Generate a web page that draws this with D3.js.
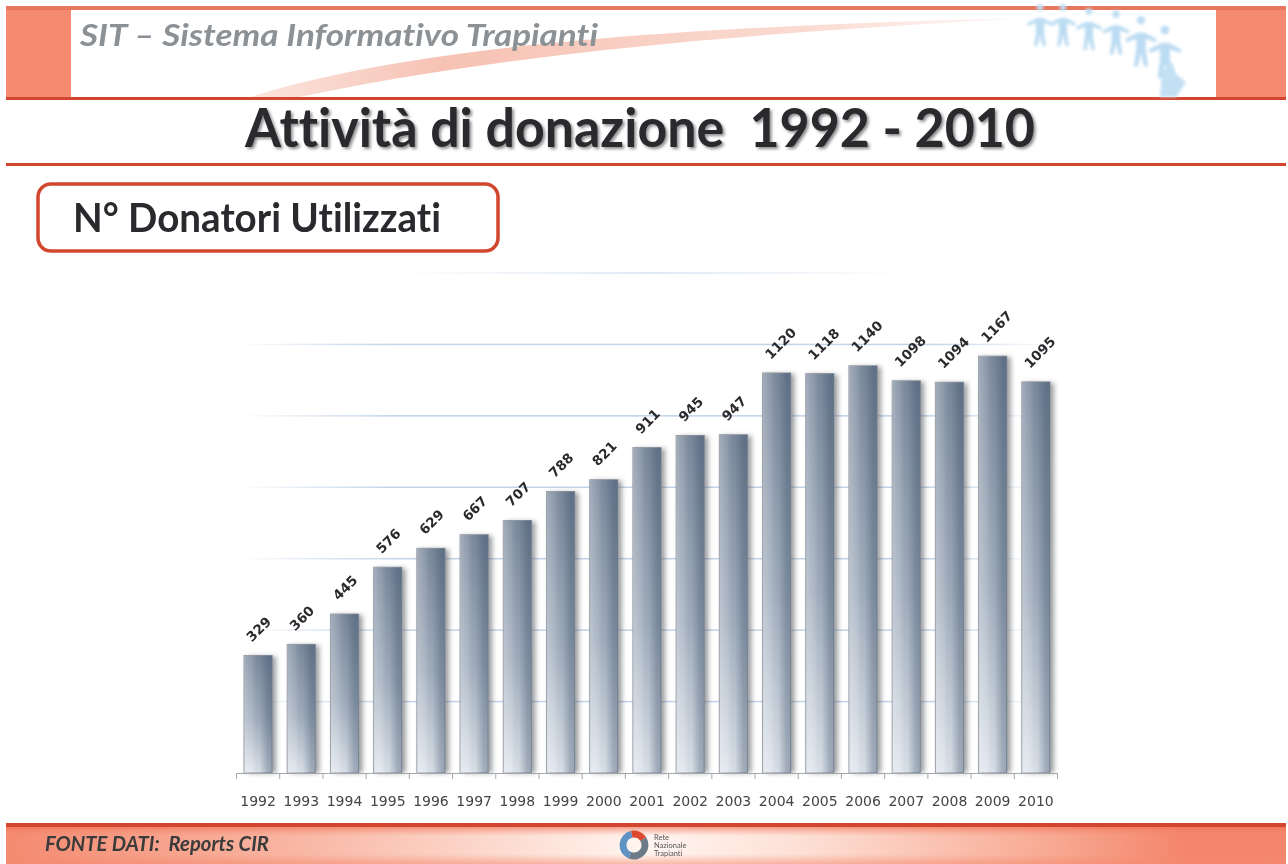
<!DOCTYPE html>
<html>
<head>
<meta charset="utf-8">
<title>Attività di donazione 1992 - 2010</title>
<script src="https://cdn.jsdelivr.net/npm/d3@7"></script>
<style>
  html, body { margin: 0; padding: 0; background: #fff; }
  svg { display: block; }
  text { font-family: Lato, "Open Sans", sans-serif; font-variant-ligatures: none; }
  .chart text { font-family: "DejaVu Sans", sans-serif; }
</style>
</head>
<body>
<div id="main"></div>
<script>
const years = ["1992","1993","1994","1995","1996","1997","1998","1999","2000","2001","2002","2003","2004","2005","2006","2007","2008","2009","2010"];
const donors = [329,360,445,576,629,667,707,788,821,911,945,947,1120,1118,1140,1098,1094,1167,1095];
const gridTicks = [200,400,600,800,1000,1200,1400];

const ctx = { w: 1288, h: 864, RED: "#d2452e", SALMON: "#f58a70", baseY: 773, topY: 273 };

const svg = d3.select("#main").append("svg").attr("width", ctx.w).attr("height", ctx.h);
const defs = svg.append("defs");

function addGradient(id, x2, y2, stops){
    const g = defs.append("linearGradient").attr("id", id)
        .attr("x1", 0).attr("y1", 0).attr("x2", x2).attr("y2", y2);
    stops.forEach(function(s){
        g.append("stop").attr("offset", s[0]).attr("stop-color", s[1]).attr("stop-opacity", s[2] === undefined ? 1 : s[2]);
    });
}

addGradient("barV", 0, 1, [[0,"#7b899c"],[0.55,"#a3afbe"],[1,"#dfe5ec"]]);
addGradient("barH", 1, 0, [[0,"#ffffff",0.3],[0.3,"#ffffff",0.12],[0.55,"#2f445f",0.05],[0.85,"#2f445f",0.34],[1,"#2f445f",0.38]]);
addGradient("gridFade", 1, 0, [[0,"#b5cbe4",0],[0.2,"#b5cbe4",0.85],[0.85,"#b5cbe4",0.85],[1,"#b5cbe4",0.05]]);
addGradient("gridTop", 1, 0, [[0,"#c4d6ea",0],[0.5,"#c4d6ea",0.7],[1,"#c4d6ea",0]]);
addGradient("swoosh", 1, 0, [[0,"#f3a893",0.3],[0.25,"#f3a893",0.7],[0.7,"#f7c0b0",0.6],[1,"#f9d5ca",0.2]]);
addGradient("footer", 1, 0, [[0,"#f48a70"],[0.25,"#f9bba9"],[0.5,"#fff5f0"],[0.62,"#fde0d6"],[0.8,"#f8ae98"],[0.92,"#f4866c"],[1,"#f4866c"]]);
addGradient("footerV", 0, 1, [[0,"#ee6446",0.85],[0.3,"#f58a70",0],[0.75,"#f58a70",0],[1,"#f58a70",0.55]]);

defs.append("filter").attr("id", "blur").attr("x", "-40%").attr("width", "180%").attr("y", "-10%").attr("height", "120%")
    .append("feGaussianBlur").attr("stdDeviation", 2.6);
defs.append("filter").attr("id", "soft")
    .append("feGaussianBlur").attr("stdDeviation", 1.4);
defs.append("filter").attr("id", "soften").attr("x", 0).attr("y", 0).attr("width", "100%").attr("height", "100%")
    .append("feGaussianBlur").attr("stdDeviation", 0.6);

const page = svg.append("g").attr("filter", "url(#soften)");
page.append("rect").attr("width", ctx.w).attr("height", ctx.h).attr("fill", "#fff");

// header band
const header = page.append("g");
header.append("rect").attr("x", 6).attr("y", 8).attr("width", 65).attr("height", 90).attr("fill", ctx.SALMON);
header.append("rect").attr("x", 1216).attr("y", 8).attr("width", 70).attr("height", 90).attr("fill", ctx.SALMON);
header.append("path")
    .attr("d", "M250,97 C400,50 640,27 1030,18 C720,34 480,58 300,97 Z")
    .attr("fill", "url(#swoosh)");
header.append("rect").attr("x", 6).attr("y", 6).attr("width", 1280).attr("height", 4).attr("fill", "#e8765c");
header.append("rect").attr("x", 6).attr("y", 97).attr("width", 1280).attr("height", 3).attr("fill", ctx.RED);
header.append("rect").attr("x", 6).attr("y", 163).attr("width", 1280).attr("height", 3).attr("fill", ctx.RED);

// little paper-chain people, top right
const people = [[1040,14,1],[1063,14,1],[1089,18,1],[1116,21,1.05],[1141,28,1.2],[1165,38,1.25]];
const body = "M0,-3 a3.5,3.5 0 1 1 0.01,0 M-3,4 L-13,9 L-12,12 L-4,9 L-4,18 L-6,32 L-2.5,32 L0,21 L2.5,32 L6,32 L4,18 L4,9 L12,12 L13,9 L3,4 Z";
const peopleG = header.append("g").attr("filter", "url(#soft)");
peopleG.selectAll("path").data(people).enter().append("path")
    .attr("d", body)
    .attr("transform", (d) => `translate(${d[0]},${d[1]}) scale(${d[2]})`)
    .attr("fill", "#bcdcf3");
peopleG.append("path").attr("d", "M1160,97 L1162,72 L1172,62 L1176,74 L1186,82 L1176,97 Z").attr("fill", "#c3dff4");

header.append("text").attr("x", 80).attr("y", 46)
    .attr("font-size", 29.5).attr("font-weight", 700).attr("font-style", "italic")
    .attr("fill", "#8c9196").attr("textLength", 518).attr("lengthAdjust", "spacingAndGlyphs")
    .text("SIT – Sistema Informativo Trapianti");

// title with its shadow
const TITLE = "Attività di donazione  1992 - 2010";
page.append("text").attr("x", 247).attr("y", 149).attr("xml:space", "preserve")
    .attr("font-size", 53).attr("font-weight", 700).attr("fill", "#8d8d8d").attr("filter", "url(#soft)")
    .attr("textLength", 790).attr("lengthAdjust", "spacingAndGlyphs")
    .text(TITLE);
page.append("text").attr("x", 245).attr("y", 147).attr("xml:space", "preserve")
    .attr("font-size", 53).attr("font-weight", 700).attr("fill", "#2b2b2d")
    .attr("textLength", 790).attr("lengthAdjust", "spacingAndGlyphs")
    .text(TITLE);

// subtitle box
page.append("rect").attr("x", 38).attr("y", 184).attr("width", 460).attr("height", 67).attr("rx", 13)
    .attr("fill", "#fff").attr("stroke", ctx.RED).attr("stroke-width", 3.5);
page.append("text").attr("x", 73).attr("y", 232)
    .attr("font-size", 40).attr("font-weight", 700).attr("fill", "#2b2b2d")
    .attr("textLength", 368).attr("lengthAdjust", "spacingAndGlyphs")
    .text("N° Donatori Utilizzati");

// chart
const chart = page.append("g").attr("class", "chart");

const xScale = d3.scaleBand().domain(years).range([236.5, 1057.5]).paddingInner(0.35).paddingOuter(0.175);
const yScale = d3.scaleLinear().domain([0, 1400]).range([ctx.baseY, ctx.topY]);

chart.append("g").selectAll("rect").data(gridTicks).enter().append("rect")
    .attr("x", (d) => d === 1400 ? 390 : 236)
    .attr("width", (d) => d === 1400 ? 520 : 810)
    .attr("y", (d) => yScale(d) - 0.75)
    .attr("height", 1.5)
    .attr("fill", (d) => d === 1400 ? "url(#gridTop)" : "url(#gridFade)");

const bars = chart.append("g").selectAll("g").data(donors).enter().append("g")
    .attr("transform", (d, i) => `translate(${xScale(years[i])},${yScale(d)})`);

bars.append("rect").attr("x", 3).attr("y", 1)
    .attr("width", xScale.bandwidth() + 1)
    .attr("height", (d) => yScale(0) - yScale(d) - 1)
    .attr("fill", "#5a5d62").attr("opacity", 0.6).attr("filter", "url(#blur)");
bars.append("rect")
    .attr("width", xScale.bandwidth())
    .attr("height", (d) => yScale(0) - yScale(d))
    .attr("fill", "url(#barV)").attr("stroke", "#8b939e").attr("stroke-width", 1);
bars.append("rect")
    .attr("width", xScale.bandwidth())
    .attr("height", (d) => yScale(0) - yScale(d))
    .attr("fill", "url(#barH)");

const axis = d3.axisBottom(xScale).tickSize(0).tickPadding(23);
const axisG = chart.append("g").attr("transform", `translate(0,${ctx.baseY})`).call(axis);
axisG.select(".domain").attr("stroke", "#a4a7ab").attr("stroke-width", 1.2);
axisG.selectAll("text").attr("font-size", 14).attr("fill", "#444").attr("font-family", "'DejaVu Sans', sans-serif");

const edges = years.map((d) => xScale(d) - xScale.step() * 0.175).concat([xScale.range()[1]]);
chart.append("g").selectAll("line").data(edges).enter().append("line")
    .attr("x1", (d) => d).attr("x2", (d) => d)
    .attr("y1", ctx.baseY).attr("y2", ctx.baseY + 6)
    .attr("stroke", "#a4a7ab").attr("stroke-width", 1);

chart.append("g").selectAll("text").data(donors).enter().append("text")
    .attr("transform", (d, i) => `translate(${xScale(years[i]) + xScale.bandwidth() / 2 - 6},${yScale(d) - 13}) rotate(-45)`)
    .attr("font-size", 13.5).attr("font-weight", 700).attr("fill", "#2b2b2d")
    .text((d) => d);

// footer
page.append("rect").attr("x", 6).attr("y", 824).attr("width", 1280).attr("height", 40).attr("fill", "url(#footer)");
page.append("rect").attr("x", 6).attr("y", 824).attr("width", 1280).attr("height", 40).attr("fill", "url(#footerV)");
page.append("rect").attr("x", 6).attr("y", 823).attr("width", 1280).attr("height", 4).attr("fill", ctx.RED);
page.append("text").attr("x", 45).attr("y", 851)
    .attr("font-size", 21).attr("font-weight", 700).attr("font-style", "italic").attr("fill", "#3a3a3a")
    .attr("textLength", 224).attr("lengthAdjust", "spacingAndGlyphs").attr("xml:space", "preserve")
    .text("FONTE DATI:  Reports CIR");

// small logo in the footer
const logo = page.append("g").attr("transform", "translate(634,845)").attr("fill", "none").attr("stroke-width", 7);
logo.append("path").attr("d", d3.arc()({innerRadius: 11, outerRadius: 11, startAngle: -2.8, endAngle: -0.2})).attr("stroke", "#5f93c4");
logo.append("path").attr("d", d3.arc()({innerRadius: 11, outerRadius: 11, startAngle: -0.2, endAngle: 1})).attr("stroke", "#dd4a2e");
logo.append("path").attr("d", d3.arc()({innerRadius: 11, outerRadius: 11, startAngle: 1, endAngle: 3.5})).attr("stroke", "#6d7a88");
[["Rete", -7], ["Nazionale", 1], ["Trapianti", 9]].forEach(function(t){
    logo.append("text").attr("x", 20).attr("y", t[1] + 2).attr("font-size", 7.5).attr("fill", "#555").attr("stroke", "none").text(t[0]);
});
</script>
</body>
</html>
